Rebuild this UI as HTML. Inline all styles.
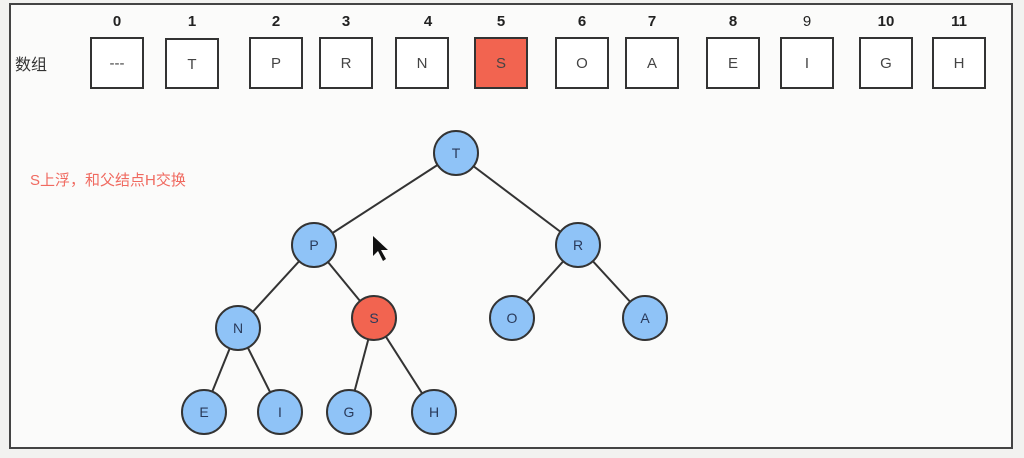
<!DOCTYPE html>
<html><head><meta charset="utf-8"><style>
html,body{margin:0;padding:0;background:#f7f7f5;}
svg{display:block}
</style></head><body>
<svg width="1024" height="458" viewBox="0 0 1024 458" xmlns="http://www.w3.org/2000/svg" font-family="'Liberation Sans','Noto Sans CJK SC',sans-serif">
<rect x="0" y="0" width="1024" height="458" fill="#f2f2f0"/>
<rect x="10" y="4" width="1002" height="444" fill="#fbfbfa" stroke="#444" stroke-width="2"/>
<g font-size="15" font-weight="bold" fill="#222" text-anchor="middle">
<text x="117" y="26">0</text><text x="192" y="26">1</text><text x="276" y="26">2</text><text x="346" y="26">3</text><text x="428" y="26">4</text><text x="501" y="26">5</text><text x="582" y="26">6</text><text x="652" y="26">7</text><text x="733" y="26">8</text><text x="807" y="26" font-weight="normal">9</text><text x="886" y="26">10</text><text x="959" y="26">11</text>
</g>
<text x="15" y="70" font-size="16" fill="#333">数组</text>
<g stroke="#333" stroke-width="2" fill="#fff">
<rect x="91" y="38" width="52" height="50"/><rect x="166" y="39" width="52" height="49"/><rect x="250" y="38" width="52" height="50"/><rect x="320" y="38" width="52" height="50"/><rect x="396" y="38" width="52" height="50"/><rect x="475" y="38" width="52" height="50" fill="#f26450"/><rect x="556" y="38" width="52" height="50"/><rect x="626" y="38" width="52" height="50"/><rect x="707" y="38" width="52" height="50"/><rect x="781" y="38" width="52" height="50"/><rect x="860" y="38" width="52" height="50"/><rect x="933" y="38" width="52" height="50"/>
</g>
<g font-size="15" fill="#444" text-anchor="middle">
<text x="117" y="68">---</text><text x="192" y="69">T</text><text x="276" y="68">P</text><text x="346" y="68">R</text><text x="422" y="68">N</text><text x="501" y="68">S</text><text x="582" y="68">O</text><text x="652" y="68">A</text><text x="733" y="68">E</text><text x="807" y="68">I</text><text x="886" y="68">G</text><text x="959" y="68">H</text>
</g>
<text x="30" y="185" font-size="15" fill="#f06a60">S上浮，和父结点H交换</text>
<g stroke="#333" stroke-width="2">
<line x1="456" y1="153" x2="314" y2="245"/><line x1="456" y1="153" x2="578" y2="245"/>
<line x1="314" y1="245" x2="238" y2="328"/><line x1="314" y1="245" x2="374" y2="318"/>
<line x1="578" y1="245" x2="512" y2="318"/><line x1="578" y1="245" x2="645" y2="318"/>
<line x1="238" y1="328" x2="204" y2="412"/><line x1="238" y1="328" x2="280" y2="412"/>
<line x1="374" y1="318" x2="349" y2="412"/><line x1="374" y1="318" x2="434" y2="412"/>
</g>
<g stroke="#333" stroke-width="2" fill="#8fc3f7">
<circle cx="456" cy="153" r="22"/><circle cx="314" cy="245" r="22"/><circle cx="578" cy="245" r="22"/><circle cx="238" cy="328" r="22"/><circle cx="374" cy="318" r="22" fill="#f26450"/><circle cx="512" cy="318" r="22"/><circle cx="645" cy="318" r="22"/><circle cx="204" cy="412" r="22"/><circle cx="280" cy="412" r="22"/><circle cx="349" cy="412" r="22"/><circle cx="434" cy="412" r="22"/>
</g>
<g font-size="14" fill="#2a3a5a" text-anchor="middle">
<text x="456" y="158">T</text><text x="314" y="250">P</text><text x="578" y="250">R</text><text x="238" y="333">N</text><text x="374" y="323">S</text><text x="512" y="323">O</text><text x="645" y="323">A</text><text x="204" y="417">E</text><text x="280" y="417">I</text><text x="349" y="417">G</text><text x="434" y="417">H</text>
</g>
<path d="M373,236 L373,256 L378,251 L383,261 L386,259 L381,250 L388,250 Z" fill="#111"/>
</svg>
</body></html>
